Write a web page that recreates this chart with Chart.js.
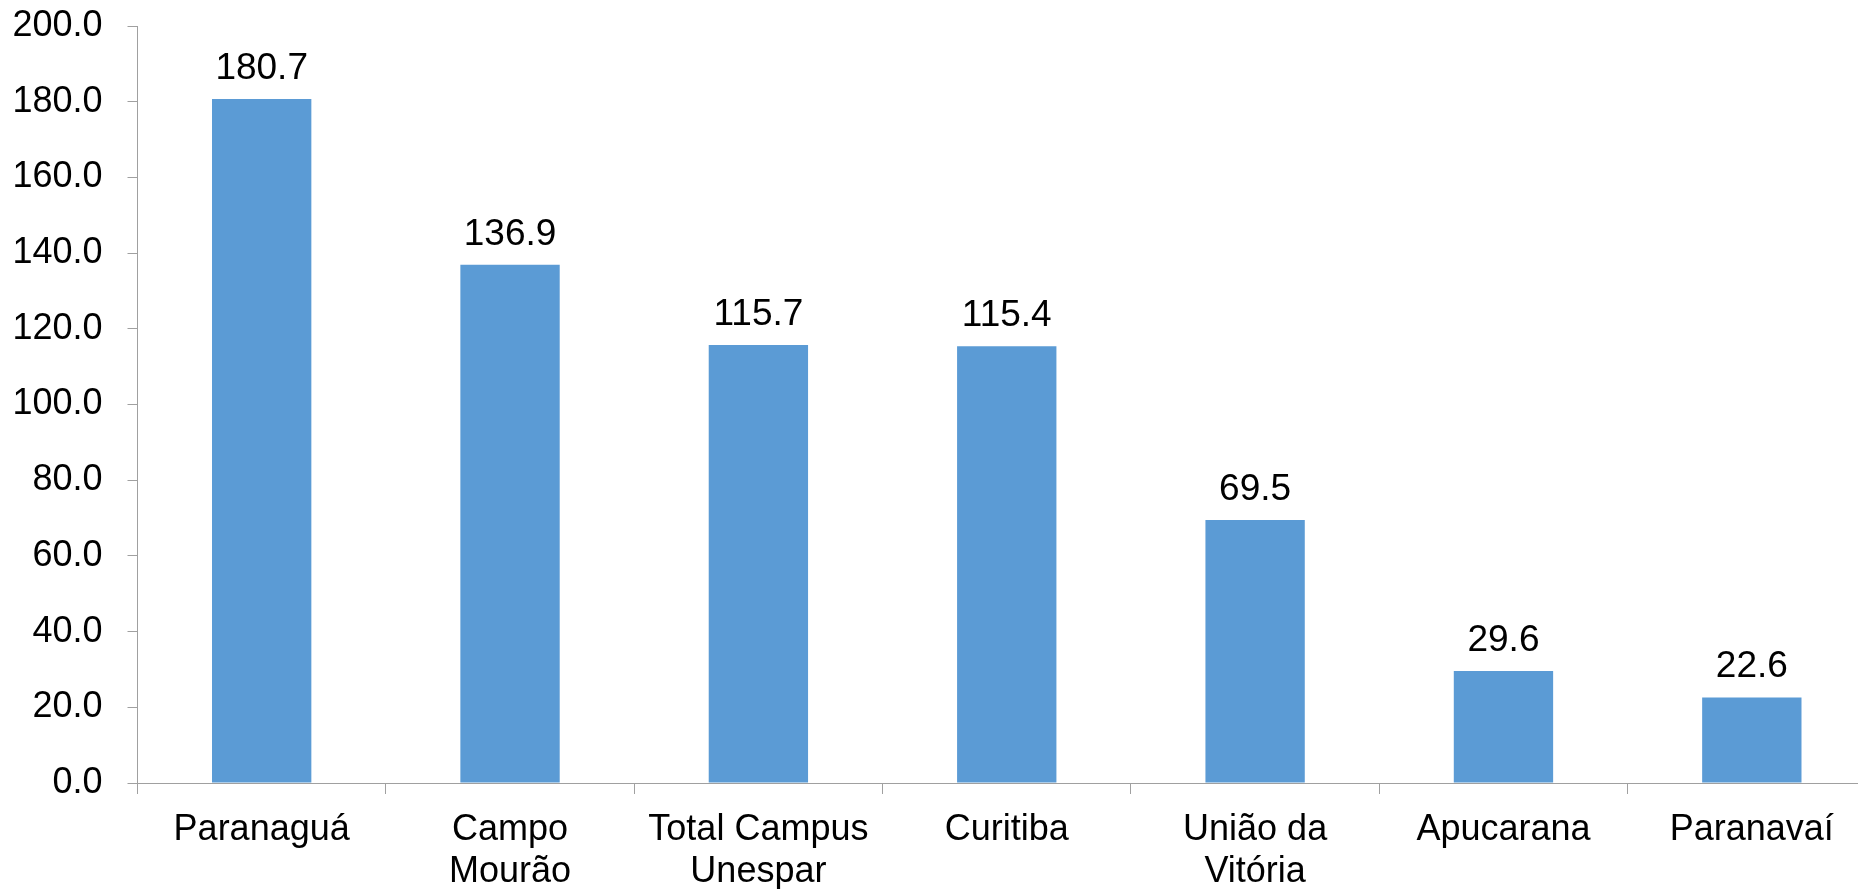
<!DOCTYPE html>
<html>
<head>
<meta charset="utf-8">
<script src="https://cdn.jsdelivr.net/npm/chart.js@4"></script>
<style>
html,body{margin:0;padding:0;overflow:hidden;background:#fff;}
canvas{display:block;}
</style>
</head>
<body>
<canvas id="c" width="1876" height="889"></canvas>
<script>
const categories = [
  "Paranaguá",
  ["Campo", "Mourão"],
  ["Total Campus", "Unespar"],
  "Curitiba",
  ["União da", "Vitória"],
  "Apucarana",
  "Paranavaí"
];
const values = [180.7, 136.9, 115.7, 115.4, 69.5, 29.6, 22.6];
const yTicks = [0, 20, 40, 60, 80, 100, 120, 140, 160, 180, 200];

const FONT = "'Liberation Sans', Arial, sans-serif";
const AXIS = '#a0a0a0';

const valueLabels = {
  id: 'valueLabels',
  afterDatasetsDraw(chart) {
    const ctx = chart.ctx;
    const meta = chart.getDatasetMeta(0);
    ctx.save();
    ctx.font = '37px ' + FONT;
    ctx.fillStyle = '#000';
    ctx.textAlign = 'center';
    ctx.textBaseline = 'alphabetic';
    meta.data.forEach((bar, i) => {
      ctx.fillText(values[i].toFixed(1), bar.x, bar.y - 20);
    });
    ctx.restore();
  }
};

new Chart(document.getElementById('c'), {
  type: 'bar',
  data: {
    labels: categories,
    datasets: [{
      data: values,
      backgroundColor: '#5b9bd5',
      borderWidth: 0,
      barPercentage: 0.4,
      categoryPercentage: 1.0
    }]
  },
  options: {
    responsive: false,
    animation: false,
    devicePixelRatio: 1,
    layout: { padding: { top: 26, left: 0, right: 0, bottom: 0 } },
    plugins: { legend: { display: false }, tooltip: { enabled: false } },
    scales: {
      x: {
        offset: true,
        grid: {
          offset: true,
          drawOnChartArea: false,
          drawTicks: true,
          tickLength: 11,
          color: AXIS,
          lineWidth: 1
        },
        border: { display: true, color: AXIS, width: 1 },
        ticks: {
          color: '#000',
          font: { family: FONT, size: 36, lineHeight: 1.16 },
          padding: 15,
          maxRotation: 0,
          autoSkip: false
        },
        afterFit(scale) {
          scale.height = 106;
          scale.paddingLeft = 0;
          scale.paddingRight = 0;
        }
      },
      y: {
        min: 0,
        max: 200,
        afterBuildTicks(scale) { scale.ticks = yTicks.map(v => ({ value: v })); },
        grid: {
          drawOnChartArea: false,
          drawTicks: true,
          tickLength: 10,
          color: AXIS,
          lineWidth: 1
        },
        border: { display: true, color: AXIS, width: 1 },
        ticks: {
          color: '#000',
          font: { family: FONT, size: 36 },
          padding: 25,
          callback: v => Number(v).toFixed(1)
        },
        afterFit(scale) {
          scale.width = 137.5;
          scale.paddingTop = 0;
          scale.paddingBottom = 0;
        }
      }
    }
  },
  plugins: [valueLabels]
});
</script>
</body>
</html>
